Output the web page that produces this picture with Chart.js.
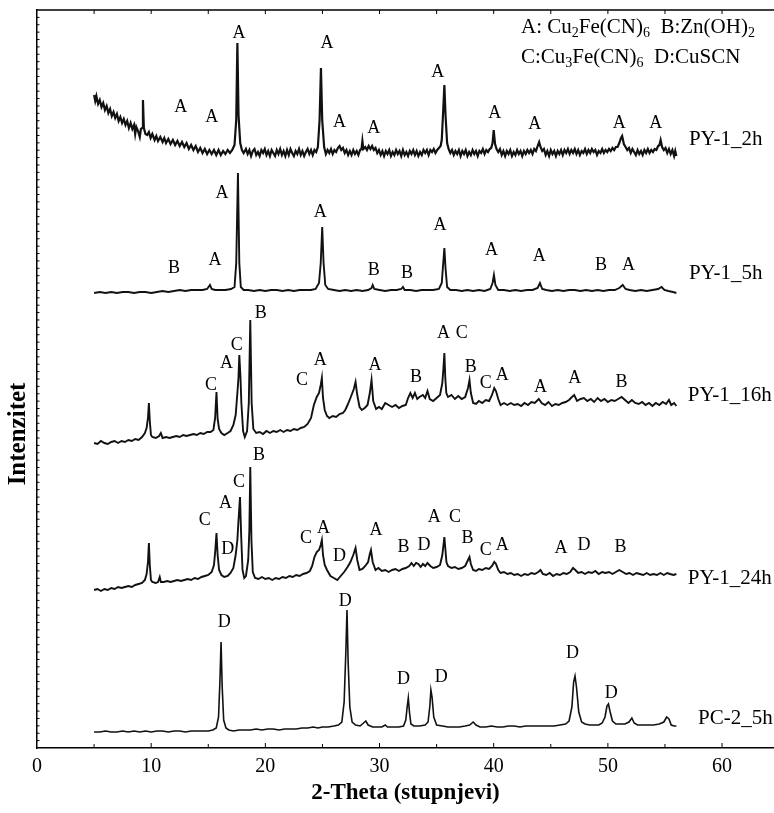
<!DOCTYPE html>
<html>
<head>
<meta charset="utf-8">
<script src="https://cdn.jsdelivr.net/npm/chart.js@4.4.1/dist/chart.umd.min.js"></script>
<style>
  html, body { margin: 0; padding: 0; background: #fff; }
  #wrap { width: 774px; height: 813px; }
</style>
</head>
<body>
<div id="wrap"><canvas id="xrd" width="774" height="813"></canvas></div>
<script>
// XRD patterns, stacked with a vertical offset per sample

const sampleNames = ['PY-1_2h', 'PY-1_5h', 'PY-1_16h', 'PY-1_24h', 'PC-2_5h'];
const stackOffsets = [595, 455, 305, 158, 16];
const xTicks = [0, 10, 20, 30, 40, 50, 60];
const legendLines = ['A: Cu_2Fe(CN)_6  B:Zn(OH)_2', 'C:Cu_3Fe(CN)_6  D:CuSCN'];

// [2theta, intensity above baseline]
const py2h = [
[5.0,58],[5.1,52],[5.2,57],[5.35,49],[5.5,53],[5.65,46],[5.8,50],[5.95,43],[6.1,47],[6.25,40],[6.4,44],[6.55,37],[6.7,41],[6.85,35],[7.0,39],[7.15,32],[7.3,36],[7.45,30],[7.6,34],[7.75,28],[7.9,32],[8.05,25],[8.2,30],[8.35,24],[8.5,28],[8.6,19],[8.7,26],[8.85,22],[9.0,16],[9.1,24],[9.2,25],[9.28,53],[9.36,25],[9.5,19],[9.65,18],[9.8,21],[9.95,15],[10.1,19],[10.3,13],[10.45,17],[10.6,12],[10.8,16],[11.0,11],[11.15,15],[11.3,10],[11.5,14],[11.7,9],[11.9,13],[12.1,8],[12.3,12],[12.5,7],[12.7,11],[12.9,6],[13.1,10],[13.3,4],[13.5,8],[13.7,3],[13.9,7],[14.1,1],[14.3,5],[14.5,0],[14.7,4],[14.9,-1],[15.1,3],[15.3,-1],[15.5,3],[15.7,-2],[15.9,3],[16.1,-2],[16.3,2],[16.5,-1],[16.7,3],[16.9,0],[17.1,3],[17.3,8],[17.45,33],[17.55,110],[17.65,38],[17.8,10],[17.95,3],
[18.1,0],[18.3,4],[18.45,-1],[18.6,3],[18.75,-3],[18.9,2],[19.05,4],[19.2,-2],[19.35,1],[19.5,-3],[19.65,3],[19.8,0],[19.95,4],[20.1,-2],[20.25,2],[20.4,-3],[20.55,3],[20.7,0],[20.85,-3],[21.0,3],[21.15,-1],[21.3,4],[21.45,-2],[21.6,2],[21.75,-3],[21.9,3],[22.05,-2],[22.2,4],[22.35,0],[22.5,-3],[22.65,2],[22.8,-1],[22.95,4],[23.1,-2],[23.25,2],[23.4,-3],[23.55,1],[23.7,4],[23.85,-1],[24.0,3],[24.15,-2],[24.3,3],[24.45,1],[24.6,6],[24.75,33],[24.87,85],[24.98,33],[25.15,6],[25.3,-1],[25.45,3],[25.6,0],[25.75,4],[25.9,-1],[26.05,3],[26.2,1],[26.35,5],[26.5,7],[26.65,3],[26.8,5],[26.95,0],[27.1,3],[27.25,-2],[27.4,2],[27.55,-2],[27.7,3],[27.85,-1],[28.0,2],[28.15,-2],[28.3,3],[28.42,4],[28.5,12],[28.58,4],[28.75,6],[28.9,3],[29.05,7],[29.2,4],[29.35,7],[29.5,3],[29.65,5],[29.8,0],[29.95,3],[30.1,-2],[30.25,2],[30.4,-3],[30.55,2],[30.7,-1],[30.85,3],[31.0,-3],[31.15,1],[31.3,-2],[31.45,3],[31.6,-1],[31.75,2],[31.9,-3],[32.05,3],[32.2,-2],[32.35,1],[32.5,-3],[32.65,2],[32.8,-1],[32.95,3],[33.1,-2],[33.25,2],[33.4,-3],[33.55,1],[33.7,-2],[33.85,3],[34.0,0],[34.15,3],[34.3,-2],[34.45,3],[34.6,1],[34.75,4],[34.9,0],[35.05,3],[35.2,5],[35.35,7],[35.45,13],[35.58,43],[35.68,68],[35.78,38],[35.92,10],[36.05,4],[36.2,0],[36.35,3],[36.5,-2],[36.65,2],[36.8,-1],[36.95,3],[37.1,-3],[37.25,2],[37.4,-1],[37.55,3],[37.7,-3],[37.85,1],[38.0,-2],[38.15,3],[38.3,-1],[38.45,2],[38.6,-3],[38.75,2],[38.9,0],[39.05,4],[39.2,-1],[39.35,3],[39.5,1],[39.65,4],[39.78,5],[39.9,10],[40.0,23],[40.12,9],[40.25,4],[40.4,1],[40.55,4],[40.7,-2],[40.85,2],[41.0,-3],[41.15,2],[41.3,-1],[41.45,3],[41.6,-3],[41.75,1],[41.9,-2],[42.05,3],[42.2,-1],[42.35,2],[42.5,-3],[42.65,2],[42.8,-1],[42.95,3],[43.1,0],[43.25,3],[43.4,-1],[43.55,4],[43.7,2],[43.85,7],[43.98,11],[44.1,6],[44.25,2],[44.4,4],[44.55,-2],[44.7,2],[44.85,-3],[45.0,3],[45.15,-1],[45.3,2],[45.45,-3],[45.6,2],[45.75,-1],[45.9,3],[46.05,-2],[46.2,3],[46.35,0],[46.5,4],[46.65,-1],[46.8,3],[46.95,0],[47.1,4],[47.25,-1],[47.4,3],[47.55,-2],[47.7,2],[47.85,0],[48.0,4],[48.15,-1],[48.3,3],[48.45,0],[48.6,4],[48.75,1],[48.9,3],[49.05,-2],[49.2,2],[49.35,0],[49.5,4],[49.65,0],[49.8,3],[49.95,1],[50.1,4],[50.25,2],[50.4,5],[50.55,3],[50.7,6],[50.85,6],[51.0,10],[51.15,15],[51.25,17],[51.4,9],[51.55,6],[51.7,3],[51.85,5],[52.0,0],[52.15,4],[52.3,1],[52.45,-2],[52.6,3],[52.75,-1],[52.9,2],[53.05,-2],[53.2,3],[53.35,0],[53.5,4],[53.65,0],[53.8,3],[53.95,1],[54.1,4],[54.25,3],[54.4,7],[54.52,8],[54.62,13],[54.75,6],[54.9,3],[55.05,5],[55.2,0],[55.35,4],[55.5,-1],[55.65,3],[55.8,-3],[55.9,2],[56.0,-3]
];

const py5h = [
[5.0,0],[5.5,1],[6.0,0],[6.5,1],[7.0,0],[7.5,1],[8.0,1],[8.5,0],[9.0,1],[9.5,1],[10.0,0],[10.5,1],[11.0,2],[11.5,1],[12.0,2],[12.5,3],[13.0,2],[13.5,3],[14.0,3],[14.5,3],[14.9,4],[15.15,8],[15.3,4],[15.6,3],[16.0,3],[16.5,3],[17.0,4],[17.3,6],[17.45,30],[17.6,120],[17.72,30],[17.85,6],[18.1,3],[18.5,3],[19.0,2],[19.5,3],[20.0,2],[20.5,3],[21.0,3],[21.5,2],[22.0,3],[22.5,2],[23.0,3],[23.5,3],[24.0,3],[24.4,4],[24.7,10],[24.85,30],[24.98,66],[25.1,30],[25.25,8],[25.5,4],[26.0,3],[26.5,2],[27.0,3],[27.5,2],[28.0,3],[28.5,2],[29.0,3],[29.3,5],[29.4,8],[29.55,4],[30.0,3],[30.5,2],[31.0,3],[31.5,3],[31.9,4],[32.05,6],[32.2,3],[32.7,3],[33.2,2],[33.7,3],[34.2,3],[34.7,3],[35.2,4],[35.45,10],[35.58,30],[35.68,45],[35.78,25],[35.92,6],[36.2,3],[36.7,3],[37.2,2],[37.7,3],[38.2,2],[38.7,3],[39.2,2],[39.7,4],[39.9,10],[40.02,18],[40.15,8],[40.4,3],[40.9,3],[41.4,2],[41.9,3],[42.4,2],[42.9,3],[43.4,3],[43.85,5],[44.05,10],[44.25,4],[44.6,3],[45.1,2],[45.6,3],[46.1,2],[46.6,3],[47.1,3],[47.6,2],[48.1,3],[48.6,2],[49.1,3],[49.6,2],[50.1,3],[50.6,3],[51.0,5],[51.3,8],[51.55,4],[51.9,3],[52.4,2],[52.9,3],[53.4,2],[53.9,3],[54.4,4],[54.7,6],[54.95,3],[55.3,2],[55.7,1],[56.0,0]
];

const py16h = [
[5.0,0],[5.3,-1],[5.6,2],[5.9,0],[6.2,-1],[6.5,1],[6.8,2],[7.1,0],[7.4,2],[7.7,1],[8.0,3],[8.3,2],[8.6,4],[8.9,3],[9.2,6],[9.45,10],[9.6,15],[9.72,25],[9.8,40],[9.88,22],[9.98,8],[10.1,6],[10.4,5],[10.7,7],[10.85,10],[11.0,5],[11.3,6],[11.6,5],[11.9,6],[12.2,7],[12.5,6],[12.8,8],[13.1,7],[13.4,8],[13.7,9],[14.0,8],[14.3,10],[14.6,9],[14.9,11],[15.2,11],[15.45,13],[15.6,25],[15.72,51],[15.82,24],[15.95,14],[16.15,10],[16.4,8],[16.7,10],[16.95,12],[17.2,18],[17.4,28],[17.55,50],[17.65,66],[17.72,88],[17.82,66],[17.9,40],[18.05,12],[18.2,6],[18.4,12],[18.55,40],[18.68,123],[18.8,40],[18.95,14],[19.2,10],[19.5,11],[19.8,9],[20.1,12],[20.4,10],[20.7,12],[21.0,11],[21.3,13],[21.6,11],[21.9,13],[22.2,12],[22.5,14],[22.8,13],[23.1,15],[23.4,16],[23.7,19],[24.0,25],[24.25,38],[24.5,46],[24.7,50],[24.85,58],[24.95,65],[25.05,45],[25.2,33],[25.4,27],[25.6,25],[25.9,27],[26.2,26],[26.5,29],[26.8,30],[27.0,33],[27.2,38],[27.45,45],[27.75,54],[27.9,61],[28.05,48],[28.25,36],[28.45,33],[28.7,35],[28.95,38],[29.15,50],[29.3,63],[29.45,42],[29.7,34],[29.95,36],[30.2,34],[30.5,40],[30.8,38],[31.1,36],[31.4,38],[31.7,35],[32.0,37],[32.3,38],[32.5,45],[32.7,50],[32.9,45],[33.1,50],[33.3,44],[33.5,46],[33.8,48],[34.0,45],[34.2,52],[34.4,44],[34.7,42],[35.0,45],[35.3,48],[35.5,60],[35.6,75],[35.68,90],[35.76,65],[35.85,50],[36.0,46],[36.3,48],[36.6,44],[36.9,47],[37.2,44],[37.5,46],[37.75,55],[37.88,63],[38.0,50],[38.2,40],[38.45,39],[38.7,42],[39.0,40],[39.3,43],[39.6,42],[39.85,48],[40.05,55],[40.2,52],[40.4,44],[40.6,38],[40.9,40],[41.2,38],[41.5,40],[41.8,38],[42.1,39],[42.4,37],[42.7,40],[43.0,38],[43.3,41],[43.6,40],[43.95,44],[44.2,40],[44.5,38],[44.8,41],[45.1,37],[45.4,39],[45.7,38],[46.0,40],[46.3,41],[46.6,43],[46.85,46],[47.05,48],[47.3,42],[47.6,44],[47.9,45],[48.2,42],[48.5,44],[48.8,41],[49.1,45],[49.4,42],[49.7,44],[50.0,41],[50.3,43],[50.6,42],[50.9,44],[51.2,46],[51.5,43],[51.8,40],[52.1,43],[52.4,40],[52.7,39],[53.0,41],[53.3,38],[53.6,40],[53.9,37],[54.2,40],[54.5,38],[54.8,41],[55.1,39],[55.35,43],[55.55,38],[55.8,40],[56.0,37]
];

const py24h = [
[5.0,0],[5.3,1],[5.6,-1],[5.9,1],[6.2,0],[6.5,2],[6.8,1],[7.1,3],[7.4,2],[7.7,3],[8.0,4],[8.3,3],[8.6,5],[8.9,6],[9.2,7],[9.45,10],[9.6,16],[9.72,28],[9.8,47],[9.88,25],[9.98,10],[10.1,8],[10.4,7],[10.6,8],[10.75,13],[10.85,8],[11.1,8],[11.4,9],[11.7,8],[12.0,9],[12.3,10],[12.6,9],[12.9,10],[13.2,11],[13.5,10],[13.8,12],[14.1,11],[14.4,13],[14.7,14],[15.0,15],[15.3,18],[15.5,25],[15.62,40],[15.72,57],[15.82,35],[15.95,20],[16.15,15],[16.4,13],[16.7,14],[16.95,17],[17.2,22],[17.4,35],[17.55,50],[17.65,70],[17.78,93],[17.88,55],[18.0,20],[18.15,12],[18.3,14],[18.5,30],[18.6,60],[18.68,123],[18.78,50],[18.9,18],[19.1,12],[19.4,11],[19.7,13],[20.0,11],[20.3,12],[20.6,10],[20.9,12],[21.2,11],[21.5,13],[21.8,12],[22.1,14],[22.4,13],[22.7,15],[23.0,14],[23.3,16],[23.6,17],[23.9,19],[24.1,24],[24.3,33],[24.5,38],[24.7,40],[24.85,45],[24.95,50],[25.05,35],[25.2,25],[25.4,20],[25.7,14],[26.0,12],[26.3,10],[26.6,14],[26.9,18],[27.2,23],[27.45,28],[27.7,35],[27.9,42],[28.05,30],[28.25,20],[28.5,21],[28.75,24],[29.0,28],[29.15,36],[29.25,40],[29.4,28],[29.65,20],[29.9,22],[30.2,19],[30.5,20],[30.8,18],[31.1,20],[31.4,21],[31.7,19],[32.0,21],[32.3,22],[32.6,24],[32.8,27],[33.0,24],[33.2,27],[33.4,26],[33.6,23],[33.8,26],[34.0,24],[34.2,27],[34.45,24],[34.7,22],[35.0,23],[35.3,25],[35.5,35],[35.6,45],[35.68,53],[35.76,42],[35.86,28],[36.0,24],[36.3,22],[36.6,23],[36.9,21],[37.2,22],[37.5,24],[37.75,30],[37.88,33],[38.0,26],[38.2,20],[38.45,19],[38.7,21],[39.0,20],[39.3,22],[39.6,21],[39.85,24],[40.05,28],[40.2,26],[40.4,20],[40.6,17],[40.9,18],[41.2,16],[41.5,17],[41.8,15],[42.1,16],[42.4,14],[42.7,16],[43.0,15],[43.3,17],[43.6,16],[43.9,18],[44.1,20],[44.3,16],[44.6,15],[44.9,17],[45.2,14],[45.5,16],[45.8,15],[46.1,17],[46.4,16],[46.7,18],[46.95,22],[47.15,20],[47.4,17],[47.7,18],[48.0,16],[48.3,18],[48.6,17],[48.9,19],[49.2,16],[49.5,18],[49.8,17],[50.1,18],[50.4,16],[50.7,18],[51.0,20],[51.3,18],[51.6,16],[51.9,17],[52.2,15],[52.5,17],[52.8,16],[53.1,15],[53.4,17],[53.7,15],[54.0,16],[54.3,15],[54.6,17],[54.9,15],[55.2,17],[55.45,16],[55.75,15],[56.0,16]
];

const pc5h = [
[5.0,0],[5.5,0],[6.0,1],[6.5,0],[7.0,0],[7.5,1],[8.0,0],[8.5,1],[9.0,0],[9.5,1],[10.0,0],[10.5,1],[11.0,1],[11.5,0],[12.0,1],[12.5,1],[13.0,0],[13.5,1],[14.0,1],[14.5,1],[15.0,1],[15.4,2],[15.7,4],[15.9,15],[16.02,50],[16.12,90],[16.22,45],[16.35,12],[16.55,4],[16.8,2],[17.2,1],[17.7,2],[18.2,2],[18.7,2],[19.2,3],[19.7,2],[20.2,3],[20.7,3],[21.2,2],[21.7,3],[22.2,3],[22.7,3],[23.2,4],[23.7,4],[24.2,5],[24.6,4],[25.0,5],[25.5,5],[26.0,6],[26.4,7],[26.7,10],[26.9,30],[27.05,80],[27.15,122],[27.25,70],[27.4,25],[27.6,10],[27.9,7],[28.3,6],[28.6,9],[28.8,11],[29.0,7],[29.4,5],[29.8,5],[30.2,5],[30.5,7],[30.7,5],[31.2,5],[31.7,5],[32.1,6],[32.3,12],[32.42,25],[32.52,34],[32.62,20],[32.75,8],[33.0,6],[33.5,6],[34.0,7],[34.25,10],[34.4,25],[34.5,42],[34.6,35],[34.75,15],[35.0,7],[35.5,6],[36.0,5],[36.5,5],[37.0,5],[37.5,6],[37.9,7],[38.2,10],[38.45,7],[38.8,5],[39.3,5],[39.8,6],[40.3,5],[40.8,5],[41.3,6],[41.8,6],[42.3,5],[42.8,6],[43.3,6],[43.8,6],[44.3,6],[44.8,6],[45.3,6],[45.8,7],[46.3,8],[46.6,11],[46.85,25],[47.0,50],[47.12,56],[47.25,45],[47.45,20],[47.7,10],[48.0,8],[48.4,7],[48.8,7],[49.2,7],[49.5,9],[49.75,15],[49.92,26],[50.05,28],[50.2,20],[50.4,11],[50.7,8],[51.1,8],[51.5,8],[51.85,10],[52.1,14],[52.3,9],[52.6,7],[53.0,7],[53.5,7],[54.0,7],[54.5,8],[54.9,10],[55.15,15],[55.35,13],[55.55,7],[55.8,6],[56.0,6]
];

// phase letters: [letter, 2theta, height above baseline]
const peaks2h = [['A',12.6,46],['A',15.3,36],['A',17.7,120],['A',25.4,110],['A',26.5,31],['A',29.5,25],['A',35.1,81],['A',40.1,40],['A',43.6,29],['A',51.0,30],['A',54.2,30]];
const peaks5h = [['B',12.0,25],['A',15.6,33],['A',16.2,100],['A',24.8,81],['B',29.5,23],['B',32.4,20],['A',35.3,68],['A',39.8,43],['A',44.0,37],['B',49.4,28],['A',51.8,28]];
const peaks16h = [['C',15.25,58],['A',16.6,80],['C',17.5,98],['B',19.6,130],['C',23.2,63],['A',24.8,83],['A',29.6,78],['B',33.2,66],['A',35.6,110],['C',37.2,110],['B',38.0,76],['C',39.3,60],['A',40.75,68],['A',44.1,56],['A',47.1,65],['B',51.2,61]];
const peaks24h = [['B',19.45,135],['C',17.7,108],['A',16.5,87],['C',14.7,70],['D',16.7,41],['C',23.55,52],['A',25.1,62],['D',26.5,34],['A',29.7,60],['B',32.1,43],['D',33.9,45],['A',34.8,73],['C',36.6,73],['B',37.7,52],['C',39.3,40],['A',40.75,45],['A',45.9,42],['D',47.9,45],['B',51.1,43]];
const peaksPC = [['D',16.4,110],['D',27.0,131],['D',32.1,53],['D',35.4,55],['D',46.9,79],['D',50.3,39]];

const patterns = [py2h, py5h, py16h, py24h, pc5h];
const peakLetters = [peaks2h, peaks5h, peaks16h, peaks24h, peaksPC];

// where the sample name sits: [2theta of left edge, height above baseline]
const nameSpots = [[57.1, 14], [57.1, 20], [57.0, 48], [57.0, 12], [57.9, 14]];

const SERIF = "'Liberation Serif', 'Times New Roman', Times, serif";

function drawFormula(ctx, str, x, y, size) {
    var cx = x;
    for (var i = 0; i < str.length; i++) {
        var ch = str[i];
        if (ch === '_') {
            ch = str[++i];
            ctx.font = Math.round(size * 0.68) + 'px ' + SERIF;
            ctx.fillText(ch, cx, y + size * 0.28);
        } else {
            ctx.font = size + 'px ' + SERIF;
            ctx.fillText(ch, cx, y);
        }
        cx += ctx.measureText(ch).width;
    }
}

const decorations = {
    id: 'decorations',
    afterDraw(chart) {
        const ctx = chart.ctx;
        const xs = chart.scales.x, ys = chart.scales.y;
        const area = chart.chartArea;
        ctx.save();
        ctx.strokeStyle = '#000';
        ctx.fillStyle = '#000';

        // top frame line
        ctx.lineWidth = 1.5;
        ctx.beginPath();
        ctx.moveTo(area.left, area.top);
        ctx.lineTo(area.right, area.top);
        ctx.stroke();

        // inward tick marks
        ctx.lineWidth = 1;
        ctx.beginPath();
        for (var t = 5; t <= 60; t += 5) {
            var px = xs.getPixelForValue(t);
            var len = t % 10 === 0 ? 5 : 4;
            ctx.moveTo(px, area.bottom);
            ctx.lineTo(px, area.bottom - len);
            ctx.moveTo(px, area.top);
            ctx.lineTo(px, area.top + 4);
        }
        for (var v = 7.38; v < 737; v += 7.38) {
            var py = ys.getPixelForValue(v);
            ctx.moveTo(area.left, py);
            ctx.lineTo(area.left + 2.5, py);
        }
        ctx.stroke();

        // phase letters
        ctx.font = '18px ' + SERIF;
        ctx.textAlign = 'center';
        ctx.textBaseline = 'middle';
        peakLetters.forEach(function (list, i) {
            list.forEach(function (p) {
                ctx.fillText(p[0], xs.getPixelForValue(p[1]), ys.getPixelForValue(stackOffsets[i] + p[2]));
            });
        });

        // sample names
        ctx.font = '21px ' + SERIF;
        ctx.textAlign = 'left';
        sampleNames.forEach(function (name, i) {
            ctx.fillText(name, xs.getPixelForValue(nameSpots[i][0]), ys.getPixelForValue(stackOffsets[i] + nameSpots[i][1]));
        });

        // phase legend
        drawFormula(ctx, legendLines[0], 521, 27, 21);
        drawFormula(ctx, legendLines[1], 521, 57, 21);

        // y title
        ctx.translate(19, 434);
        ctx.rotate(-Math.PI / 2);
        ctx.textAlign = 'center';
        ctx.font = 'bold 25px ' + SERIF;
        ctx.fillText('Intenzitet', 0, 0);
        ctx.restore();
    }
};

new Chart(document.getElementById('xrd'), {
    type: 'scatter',
    data: {
        datasets: patterns.map(function (pts, i) {
            return {
                label: sampleNames[i],
                data: pts.map(function (p) { return { x: p[0], y: stackOffsets[i] + p[1] }; }),
                showLine: true,
                borderColor: '#111',
                borderWidth: i === 0 ? 2.2 : (i === 4 ? 1.6 : 1.9),
                pointRadius: 0,
                tension: 0
            };
        })
    },
    options: {
        responsive: false,
        animation: false,
        devicePixelRatio: 1,
        layout: { padding: { top: 10, right: 0, left: 0, bottom: 0 } },
        plugins: { legend: { display: false }, tooltip: { enabled: false } },
        scales: {
            x: {
                type: 'linear',
                min: 0,
                max: 64.55,
                afterFit: function (scale) { scale.height = 65; },
                afterBuildTicks: function (scale) {
                    scale.ticks = xTicks.map(function (v) { return { value: v }; });
                },
                border: { display: true, color: '#000', width: 1.5 },
                grid: { display: false, drawTicks: false },
                ticks: {
                    color: '#000',
                    padding: 7,
                    font: { family: SERIF, size: 20 }
                },
                title: {
                    display: true,
                    text: '2-Theta (stupnjevi)',
                    color: '#000',
                    font: { family: SERIF, size: 23, weight: 'bold' },
                    padding: { top: 0, bottom: 6 }
                }
            },
            y: {
                type: 'linear',
                min: 0,
                max: 738,
                afterFit: function (scale) { scale.width = 37; },
                border: { display: true, color: '#000', width: 1.5 },
                grid: { display: false, drawTicks: false },
                ticks: { display: false }
            }
        }
    },
    plugins: [decorations]
});
</script>
</body>
</html>
